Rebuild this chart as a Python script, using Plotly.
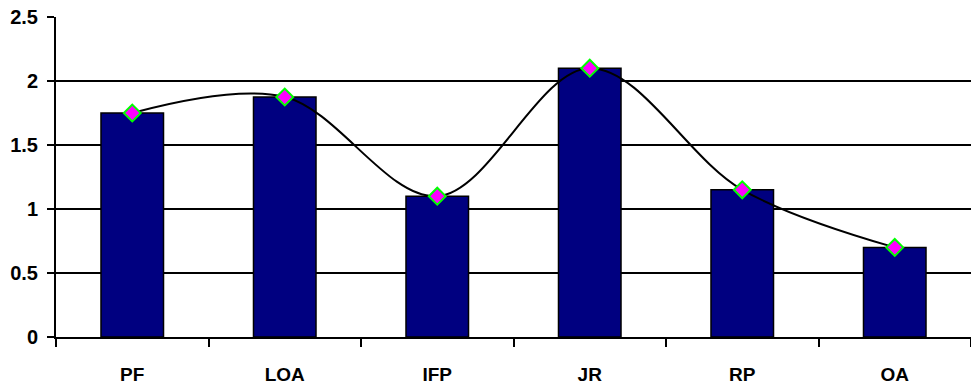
import plotly.graph_objects as go

categories = ["PF", "LOA", "IFP", "JR", "RP", "OA"]
values = [1.75, 1.875, 1.1, 2.1, 1.15, 0.7]
y_ticks = [0, 0.5, 1, 1.5, 2, 2.5]

fig = go.Figure()
fig.add_trace(go.Bar(
    x=categories, y=values,
    marker=dict(color="#000080", line=dict(color="#000000", width=1.5)),
    hoverinfo="skip",
))
fig.add_trace(go.Scatter(
    x=categories, y=values, mode="lines+markers",
    line=dict(color="#000000", width=2, shape="spline", smoothing=1),
    marker=dict(symbol="diamond", size=13, color="#FF00FF",
                line=dict(color="#00FF00", width=2)),
))

fam = "Liberation Sans, Arial, sans-serif"
fig.update_layout(
    width=971, height=385,
    margin=dict(l=56, r=0, t=17, b=48),
    paper_bgcolor="white", plot_bgcolor="white",
    showlegend=False, bargap=0.59,
    font=dict(family=fam, size=18, color="#000000"),
)
fig.update_xaxes(
    type="category", range=[-0.5, 5.5],
    tickvals=categories, ticktext=[f"<b>{c}</b>" for c in categories],
    showline=True, linecolor="#000000", linewidth=2,
    ticks="outside", tickson="boundaries", ticklen=8, tickwidth=2, tickcolor="#000000",
    showgrid=False, tickfont=dict(size=19, family=fam),
    ticklabelstandoff=19,
)
fig.update_yaxes(
    range=[0, 2.5], tickvals=y_ticks, ticktext=[f"<b>{v:g}</b>" for v in y_ticks],
    showline=True, linecolor="#000000", linewidth=2,
    ticks="outside", ticklen=7, tickwidth=2, tickcolor="#000000",
    showgrid=True, gridcolor="#000000", gridwidth=2, zeroline=False,
    tickfont=dict(size=20, family=fam), ticklabelstandoff=5,
)
fig.write_html("out.html")
